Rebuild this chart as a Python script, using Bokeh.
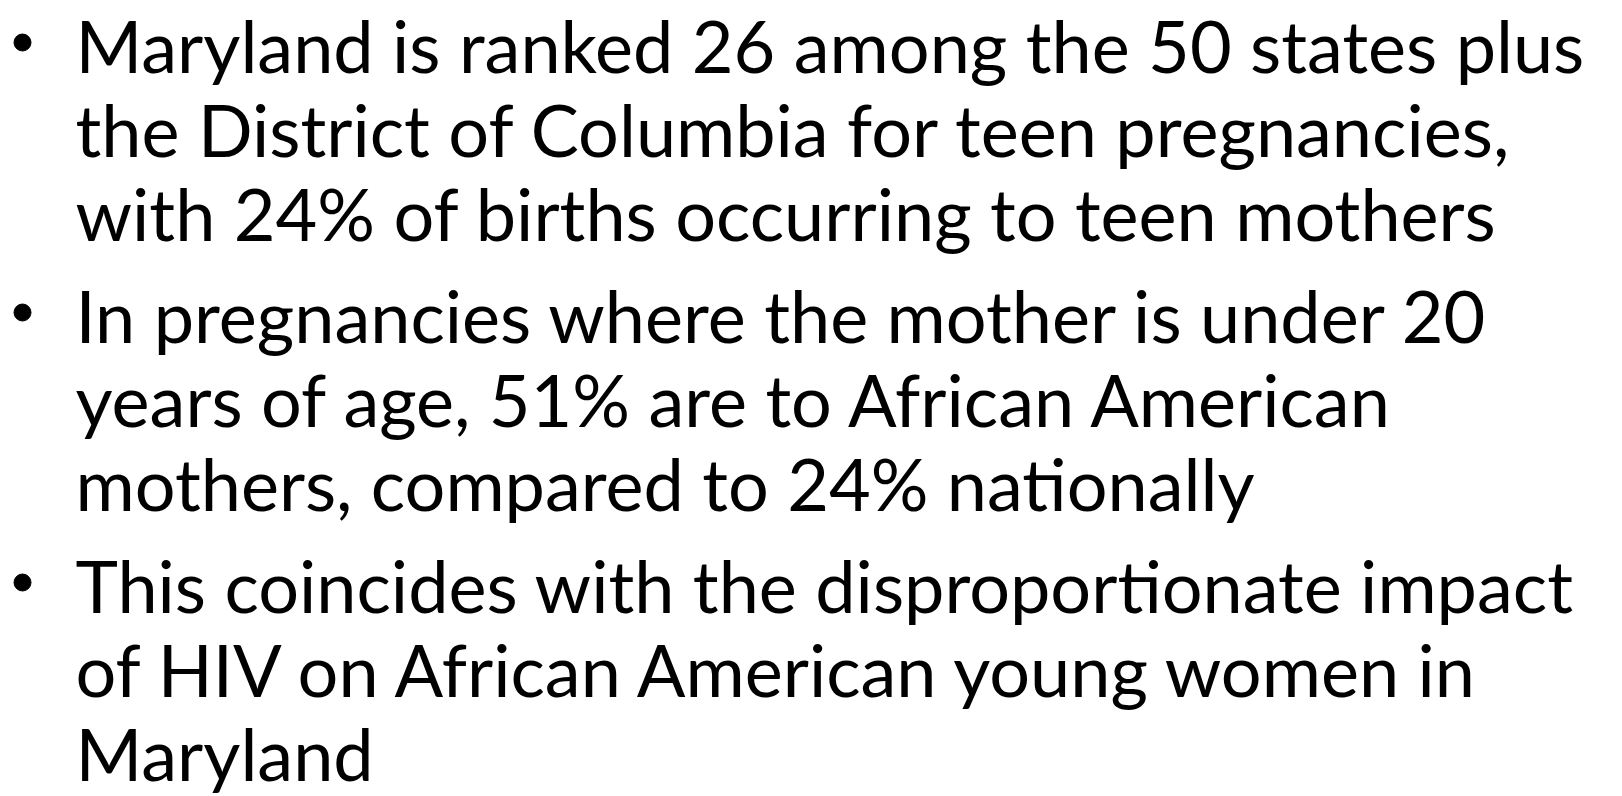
from bokeh.plotting import figure
from bokeh.models import ColumnDataSource, Range1d
from bokeh.core.properties import value
from bokeh.embed import file_html
from bokeh.resources import INLINE

bullet_1 = ["Maryland is ranked 26 among the 50 states plus",
            "the District of Columbia for teen pregnancies,",
            "with 24% of births occurring to teen mothers"]
bullet_2 = ["In pregnancies where the mother is under 20",
            "years of age, 51% are to African American",
            "mothers, compared to 24% nationally"]
bullet_3 = ["This coincides with the disproportionate impact",
            "of HIV on African American young women in",
            "Maryland"]
bullets = [bullet_1, bullet_2, bullet_3]

W, H = 1622, 796
FONT = "Lato"
FS = 72
LINE = 84
PARA = 18
FIRST = 72
SHIFT = round(28 * FS / 73)  # renderer places alphabetic baseline this far below y

p = figure(width=W, height=H, output_backend="svg", toolbar_location=None,
           x_range=Range1d(0, W), y_range=Range1d(H, 0), min_border=0)
p.axis.visible = False
p.grid.visible = False
p.outline_line_color = None
p.background_fill_color = "white"
p.border_fill_color = "white"

tx, ty, tt = [], [], []
bx, by = [], []
y = FIRST
for b in bullets:
    by.append(y - 30)
    bx.append(22)
    for ln in b:
        tx.append(75)
        ty.append(y - SHIFT)
        tt.append(ln)
        y += LINE
    y += PARA

src = ColumnDataSource(dict(x=tx, y=ty, text=tt))
p.text(x="x", y="y", text="text", source=src, text_font=value(FONT),
       text_font_size=f"{FS}px", text_color="black", text_baseline="alphabetic",
       text_align="left")
p.scatter(x=bx, y=by, size=17, marker="circle", color="black")

open("out.html", "w").write(file_html(p, INLINE))
